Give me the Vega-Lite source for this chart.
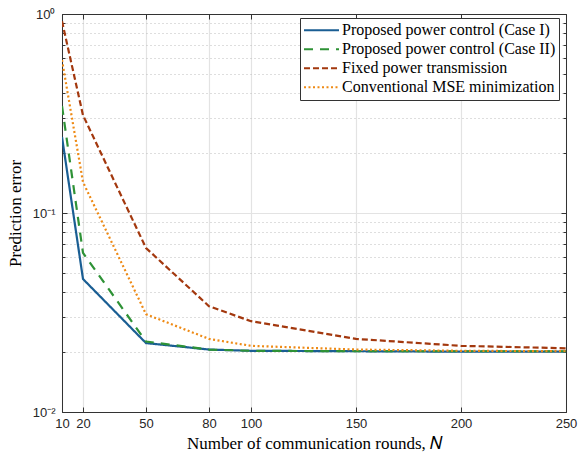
{
  "$schema": "https://vega.github.io/schema/vega-lite/v6.json",
  "width": 504,
  "height": 398,
  "autosize": "none",
  "padding": {"left": 62, "top": 14, "right": 12, "bottom": 40},
  "background": "white",
  "config": {
    "view": {"stroke": "#333333", "strokeWidth": 1},
    "axis": {
      "domainColor": "#333333",
      "tickColor": "#333333",
      "labelFont": "Liberation Sans",
      "labelFontSize": 13,
      "labelColor": "#262626",
      "titleFont": "Liberation Serif",
      "titleFontSize": 17,
      "titleFontWeight": "normal",
      "titleColor": "#000000"
    }
  },
  "data": {
    "values": [
      {"N": 10, "series": "Proposed power control (Case I)", "value": 0.241},
      {"N": 20, "series": "Proposed power control (Case I)", "value": 0.0466},
      {"N": 50, "series": "Proposed power control (Case I)", "value": 0.0222},
      {"N": 80, "series": "Proposed power control (Case I)", "value": 0.0206},
      {"N": 100, "series": "Proposed power control (Case I)", "value": 0.0203},
      {"N": 150, "series": "Proposed power control (Case I)", "value": 0.0202},
      {"N": 200, "series": "Proposed power control (Case I)", "value": 0.0201},
      {"N": 250, "series": "Proposed power control (Case I)", "value": 0.0201},
      {"N": 10, "series": "Proposed power control (Case II)", "value": 0.345},
      {"N": 20, "series": "Proposed power control (Case II)", "value": 0.063},
      {"N": 50, "series": "Proposed power control (Case II)", "value": 0.0226},
      {"N": 80, "series": "Proposed power control (Case II)", "value": 0.0206},
      {"N": 100, "series": "Proposed power control (Case II)", "value": 0.0203},
      {"N": 150, "series": "Proposed power control (Case II)", "value": 0.0202},
      {"N": 200, "series": "Proposed power control (Case II)", "value": 0.0202},
      {"N": 250, "series": "Proposed power control (Case II)", "value": 0.0202},
      {"N": 10, "series": "Fixed power transmission", "value": 0.92},
      {"N": 20, "series": "Fixed power transmission", "value": 0.31},
      {"N": 50, "series": "Fixed power transmission", "value": 0.0667},
      {"N": 80, "series": "Fixed power transmission", "value": 0.034},
      {"N": 100, "series": "Fixed power transmission", "value": 0.0286},
      {"N": 150, "series": "Fixed power transmission", "value": 0.0233},
      {"N": 200, "series": "Fixed power transmission", "value": 0.0215},
      {"N": 250, "series": "Fixed power transmission", "value": 0.0209},
      {"N": 10, "series": "Conventional MSE minimization", "value": 0.587},
      {"N": 20, "series": "Conventional MSE minimization", "value": 0.143},
      {"N": 50, "series": "Conventional MSE minimization", "value": 0.031},
      {"N": 80, "series": "Conventional MSE minimization", "value": 0.0233},
      {"N": 100, "series": "Conventional MSE minimization", "value": 0.0215},
      {"N": 150, "series": "Conventional MSE minimization", "value": 0.0206},
      {"N": 200, "series": "Conventional MSE minimization", "value": 0.0203},
      {"N": 250, "series": "Conventional MSE minimization", "value": 0.0202}
    ]
  },
  "layer": [
    {
      "mark": {"type": "line", "strokeWidth": 2.2, "clip": true},
      "encoding": {
        "x": {
          "field": "N", "type": "quantitative",
          "scale": {"domain": [10, 250], "nice": false, "zero": false},
          "axis": {
            "values": [10, 20, 50, 80, 100, 150, 200, 250],
            "title": "Number of communication rounds,  𝑁",
            "titlePadding": 5,
            "grid": true, "gridColor": "#e3e3e3", "gridWidth": 1.2,
            "tickSize": -5, "labelPadding": 10, "domain": true,
            "labelOverlap": false, "labelFlush": false, "labelBound": false
          }
        },
        "y": {
          "field": "value", "type": "quantitative",
          "scale": {"type": "log", "domain": [0.01, 1], "nice": false},
          "axis": {
            "values": [0.01,0.02,0.03,0.04,0.05,0.06,0.07,0.08,0.09,0.1,0.2,0.3,0.4,0.5,0.6,0.7,0.8,0.9,1],
            "labelExpr": "datum.value==1 ? '10⁰' : (abs(datum.value-0.1)<1e-9 ? '10⁻¹' : (abs(datum.value-0.01)<1e-9 ? '10⁻²' : ''))",
            "title": "Prediction error",
            "titlePadding": 8,
            "grid": true,
            "gridColor": {"condition": {"test": "datum.value==1 || abs(datum.value-0.1)<1e-9 || abs(datum.value-0.01)<1e-9", "value": "#e3e3e3"}, "value": "#bdbdbd"},
            "gridDash": {"condition": {"test": "datum.value==1 || abs(datum.value-0.1)<1e-9 || abs(datum.value-0.01)<1e-9", "value": []}, "value": [1, 3]},
            "gridWidth": {"condition": {"test": "datum.value==1 || abs(datum.value-0.1)<1e-9 || abs(datum.value-0.01)<1e-9", "value": 1.2}, "value": 1},
            "tickSize": {"condition": {"test": "datum.value==1 || abs(datum.value-0.1)<1e-9 || abs(datum.value-0.01)<1e-9", "value": -5}, "value": -3},
            "labelPadding": 12,
            "labelOverlap": false,
            "labelFlush": false,
            "labelBound": false
          }
        },
        "color": {
          "field": "series", "type": "nominal",
          "scale": {
            "domain": ["Proposed power control (Case I)", "Proposed power control (Case II)", "Fixed power transmission", "Conventional MSE minimization"],
            "range": ["#1a5e93", "#2e9236", "#a3380e", "#ee8a15"]
          },
          "legend": {
            "title": null,
            "orient": "none",
            "legendX": 238,
            "legendY": 4,
            "symbolType": "stroke",
            "symbolSize": 1225,
            "symbolStrokeWidth": 2,
            "clipHeight": 18.7,
            "labelFont": "Liberation Serif",
            "labelFontSize": 16,
            "labelColor": "#000000",
            "labelLimit": 400,
            "strokeColor": "#333333",
            "fillColor": "white",
            "padding": 3,
            "rowPadding": 0,
            "labelOffset": 2
          }
        },
        "strokeDash": {
          "field": "series", "type": "nominal",
          "scale": {
            "domain": ["Proposed power control (Case I)", "Proposed power control (Case II)", "Fixed power transmission", "Conventional MSE minimization"],
            "range": [[1, 0], [9, 7], [6, 3], [2, 2.5]]
          },
          "legend": null
        }
      }
    },
    {
      "mark": {"type": "point", "opacity": 0},
      "encoding": {
        "x": {
          "field": "N", "type": "quantitative",
          "axis": {
            "orient": "top", "values": [10, 20, 50, 80, 100, 150, 200, 250],
            "labels": false, "title": null, "grid": false, "tickSize": -5
          }
        },
        "y": {
          "field": "value", "type": "quantitative",
          "axis": {
            "orient": "right",
            "values": [0.01,0.02,0.03,0.04,0.05,0.06,0.07,0.08,0.09,0.1,0.2,0.3,0.4,0.5,0.6,0.7,0.8,0.9,1],
            "labels": false, "title": null, "grid": false,
            "tickSize": {"condition": {"test": "datum.value==1 || abs(datum.value-0.1)<1e-9 || abs(datum.value-0.01)<1e-9", "value": -5}, "value": -3}
          }
        }
      }
    }
  ],
  "resolve": {"axis": {"x": "independent", "y": "independent"}}
}
